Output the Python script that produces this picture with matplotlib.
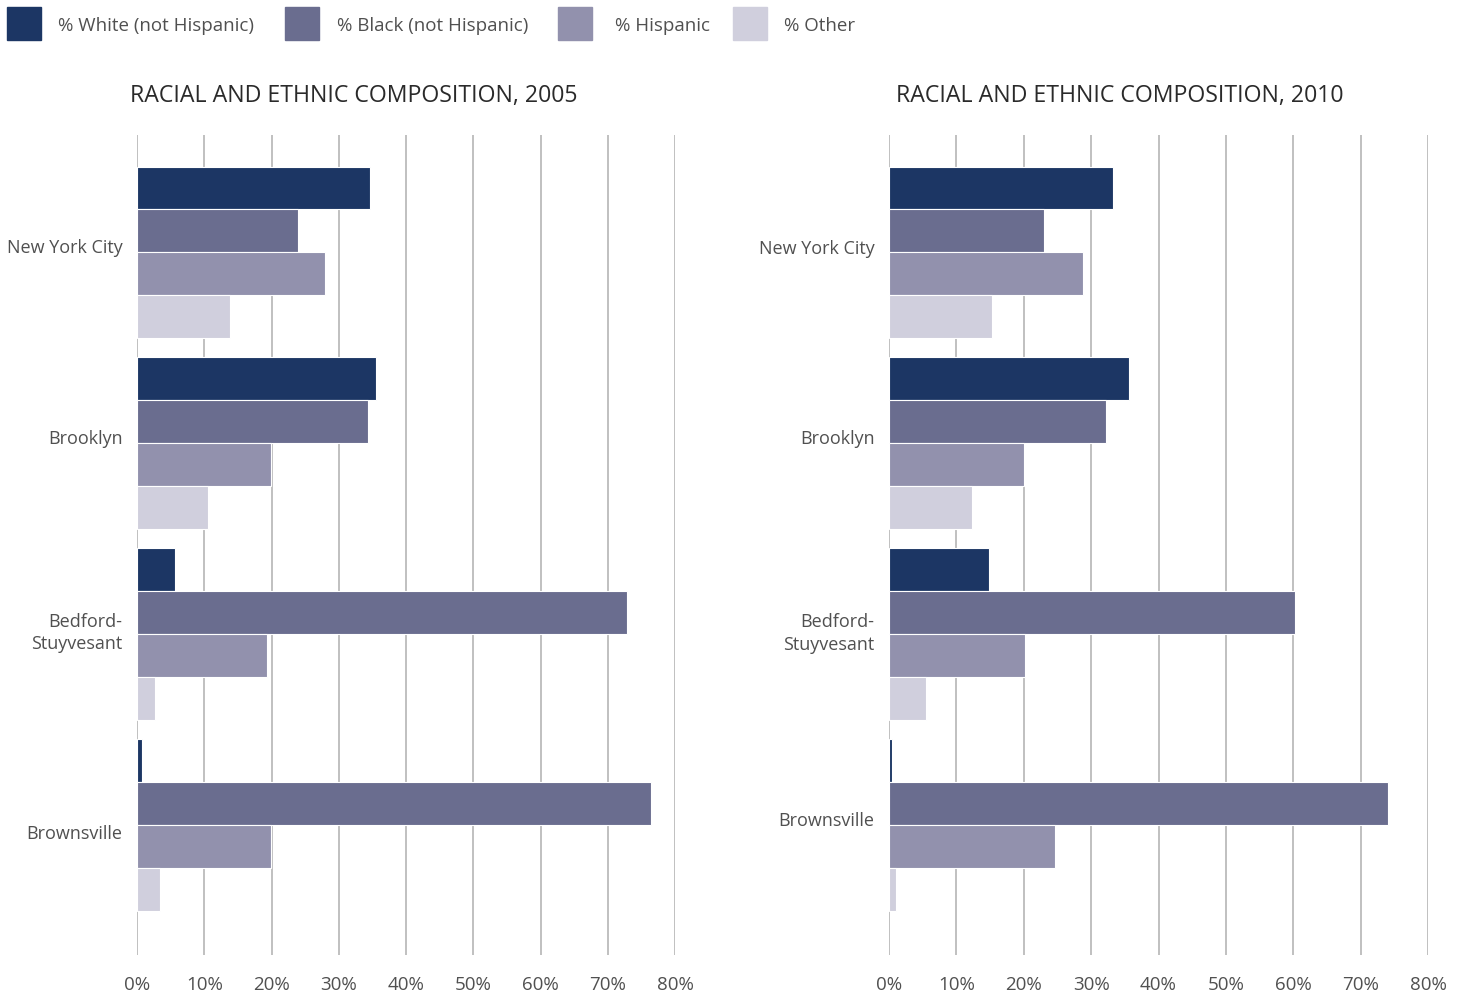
import numpy as np
import matplotlib.pyplot as plt
from matplotlib.patches import Rectangle

plt.rcParams['font.family'] = ['Open Sans', 'DejaVu Sans']

places = ['New York City', 'Brooklyn', 'Bedford-\nStuyvesant', 'Brownsville']
groups = ['% White (not Hispanic)', '% Black (not Hispanic)', '% Hispanic', '% Other']
colors = ['#1c3664', '#6a6d8f', '#9291ad', '#d0cfdd']

# percent values
share_2005 = {
    '% White (not Hispanic)': [34.6, 35.5, 5.7, 0.7],
    '% Black (not Hispanic)': [23.9, 34.3, 72.9, 76.4],
    '% Hispanic': [28.0, 19.9, 19.3, 19.9],
    '% Other': [13.8, 10.6, 2.7, 3.4],
}
share_2010 = {
    '% White (not Hispanic)': [33.2, 35.6, 14.8, 0.4],
    '% Black (not Hispanic)': [23.0, 32.2, 60.2, 74.0],
    '% Hispanic': [28.8, 20.0, 20.2, 24.6],
    '% Other': [15.3, 12.3, 5.5, 1.0],
}
ticks = [0, 10, 20, 30, 40, 50, 60, 70, 80]
tick_labels = ['%d%%' % t for t in ticks]

W, H = 1465, 996
fig = plt.figure(figsize=(W / 100, H / 100), dpi=100)

txt = '#505050'
bh = 0.225


def panel(left, right, data, title, tx, label_shift):
    ax = fig.add_axes([left / W, 1 - 955 / H, (right - left) / W, 820 / H])
    y = np.arange(len(places))
    for i, g in enumerate(groups):
        ax.barh(y - 1.5 * bh + i * bh, data[g], height=bh, color=colors[i],
                edgecolor='white', linewidth=0.8, zorder=3)
    ax.set_xlim(0, 80)
    ax.set_ylim(3.68, -0.615)
    ax.set_xticks(ticks)
    ax.set_xticklabels(tick_labels)
    # category labels sit a little off the group centres in the original
    ax.set_yticks(y + np.array(label_shift))
    ax.set_yticklabels(places, linespacing=1.35)
    ax.grid(axis='x', color='#b5b5b5', linewidth=1.2, zorder=0)
    for s in ax.spines.values():
        s.set_visible(False)
    ax.tick_params(length=0, labelcolor=txt)
    ax.tick_params(axis='x', pad=15, labelsize=13.5)
    ax.tick_params(axis='y', pad=10.5, labelsize=13)
    fig.text(tx / W, 1 - 96 / H, title, fontsize=16.7, color='#2a2a2a',
             ha='left', va='center')
    return ax


panel(137, 675, share_2005, 'RACIAL AND ETHNIC COMPOSITION, 2005', 130,
      [-0.035, -0.035, -0.03, 0.035])
panel(889, 1428, share_2010, 'RACIAL AND ETHNIC COMPOSITION, 2010', 896,
      [-0.03, -0.035, -0.025, -0.03])

# legend across the top
box_x = [7, 285, 558, 733]
text_x = [58, 337, 615, 784]
for i, g in enumerate(groups):
    fig.patches.append(Rectangle((box_x[i] / W, 1 - 40 / H), 34 / W, 33 / H,
                                 transform=fig.transFigure, color=colors[i]))
    fig.text(text_x[i] / W, 1 - 26 / H, g, fontsize=13.5, color=txt,
             ha='left', va='center')

plt.savefig('out.png', dpi=100)
